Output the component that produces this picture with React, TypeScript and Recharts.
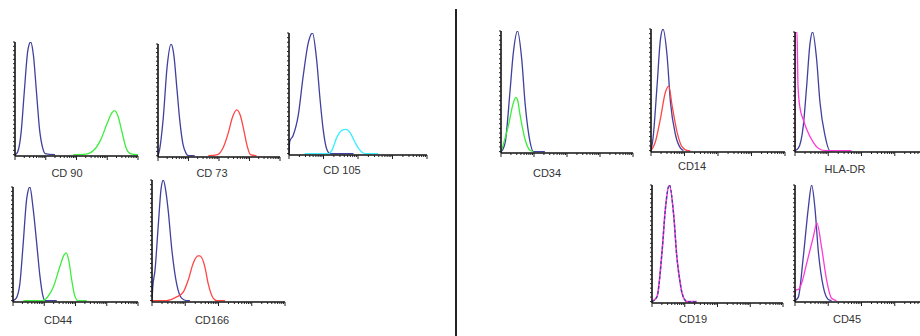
import React from "react";
import { LineChart, Line, XAxis, YAxis } from "recharts";

// histogram curves, x in log decades (0..4), y = relative count (isotype peak = 1)
const cd90Iso = [[0,0],[0.08,0.02],[0.2,0.2],[0.3,0.55],[0.42,0.93],[0.51,1],[0.6,0.88],[0.7,0.55],[0.8,0.22],[0.9,0.06],[0.98,0.01],[1.3,0]];
const cd90Stain = [[1.9,0],[2.3,0.005],[2.6,0.05],[2.8,0.14],[3.0,0.28],[3.15,0.37],[3.24,0.39],[3.35,0.34],[3.48,0.2],[3.6,0.07],[3.75,0.01],[4.0,0]];
const cd73Iso = [[0,0],[0.05,0.05],[0.17,0.33],[0.3,0.8],[0.43,1],[0.52,0.9],[0.62,0.6],[0.72,0.3],[0.82,0.1],[0.92,0.02],[1.0,0],[1.2,0]];
const cd73Stain = [[1.65,0],[1.95,0.01],[2.15,0.08],[2.3,0.2],[2.45,0.35],[2.58,0.41],[2.7,0.36],[2.82,0.22],[2.93,0.08],[3.03,0.01],[3.23,0]];
const cd105Iso = [[0,0],[0.02,0.1],[0.12,0.15],[0.27,0.32],[0.41,0.64],[0.56,0.92],[0.68,1],[0.8,0.78],[0.9,0.45],[0.99,0.2],[1.09,0.04],[1.19,0],[1.87,0]];
const cd105Stain = [[0.46,0],[1.15,0],[1.25,0.03],[1.38,0.13],[1.52,0.19],[1.65,0.2],[1.78,0.17],[1.9,0.1],[2.05,0.03],[2.2,0],[2.58,0]];
const cd44Iso = [[0,0],[0.1,0.02],[0.22,0.15],[0.32,0.48],[0.44,0.9],[0.54,1],[0.64,0.82],[0.76,0.5],[0.86,0.22],[0.95,0.05],[1.03,0],[1.4,0]];
const cd44Stain = [[0.33,0],[0.95,0],[1.1,0.03],[1.29,0.12],[1.5,0.3],[1.63,0.4],[1.7,0.42],[1.78,0.36],[1.88,0.18],[1.98,0.04],[2.08,0],[2.36,0]];
const cd166Iso = [[0,0],[0.02,0.1],[0.09,0.25],[0.19,0.63],[0.27,0.92],[0.34,1],[0.42,0.9],[0.49,0.74],[0.59,0.44],[0.74,0.14],[0.89,0.02],[1.04,0],[1.14,0]];
const cd166Stain = [[0,0],[0.44,0],[0.74,0.03],[0.94,0.07],[1.09,0.17],[1.24,0.31],[1.38,0.37],[1.44,0.37],[1.59,0.28],[1.69,0.14],[1.84,0.02],[1.95,0],[2.2,0]];
const cd34Iso = [[0,0],[0.06,0.02],[0.13,0.08],[0.27,0.49],[0.37,0.81],[0.5,1],[0.63,0.76],[0.73,0.4],[0.81,0.2],[0.88,0.08],[0.98,0],[1.33,0]];
const cd34Stain = [[0,0],[0.07,0.06],[0.22,0.21],[0.37,0.4],[0.45,0.45],[0.5,0.43],[0.58,0.3],[0.73,0.1],[0.88,0.01],[0.98,0]];
const cd14Iso = [[0,0],[0.06,0.1],[0.18,0.53],[0.28,0.91],[0.36,1],[0.48,0.78],[0.58,0.4],[0.73,0.13],[0.88,0.02],[0.97,0]];
const cd14Stain = [[0,0],[0.13,0.07],[0.28,0.26],[0.43,0.48],[0.53,0.53],[0.63,0.37],[0.78,0.15],[0.93,0.03],[1.1,0],[1.17,0]];
const hlaIso = [[0,0],[0.1,0.02],[0.25,0.21],[0.35,0.54],[0.45,0.9],[0.53,1],[0.65,0.77],[0.75,0.41],[0.9,0.13],[1.05,0],[1.15,0]];
const hlaStain = [[0,0],[0.005,1],[0.06,1],[0.09,0.55],[0.15,0.36],[0.25,0.26],[0.35,0.18],[0.55,0.07],[0.7,0.02],[0.9,0],[1.7,0]];
const cd19Iso = [[0,0],[0.15,0.04],[0.31,0.44],[0.41,0.8],[0.53,1],[0.66,0.75],[0.76,0.38],[0.85,0.18],[0.92,0.07],[1.07,0],[1.37,0]];
const cd19Stain = [[0,0],[0.15,0.04],[0.31,0.44],[0.41,0.8],[0.53,1],[0.66,0.75],[0.76,0.38],[0.85,0.18],[0.92,0.07],[1.07,0],[1.37,0]];
const cd45Iso = [[0,0],[0.1,0.03],[0.25,0.38],[0.4,0.8],[0.5,1],[0.6,0.8],[0.7,0.43],[0.85,0.12],[1.0,0.01],[1.1,0]];
const cd45Stain = [[0,0],[0.02,0.09],[0.12,0.1],[0.2,0.15],[0.35,0.32],[0.55,0.55],[0.66,0.67],[0.8,0.46],[0.95,0.18],[1.1,0.02],[1.25,0]];

const labels = ["CD 90", "CD 73", "CD 105", "CD44", "CD166", "CD34", "CD14", "HLA-DR", "CD19", "CD45"];

const BLUE = "#40409e";
const GREEN = "#3cee3c";
const RED = "#ff4646";
const CYAN = "#3ceeff";
const MAGENTA = "#ff3ad8";

// log decade ticks
const X_TICKS: number[] = [];
for (let d = 0; d < 4; d++) for (let k = 1; k < 10; k++) X_TICKS.push(d + Math.log10(k));
X_TICKS.push(4);
const Y_TICKS: number[] = [];
for (let i = 0; i <= 26; i++) Y_TICKS.push(i / 26);

const ML = 6, MT = 3, MR = 4, MB = 8;

const toPts = (arr: number[][]) => arr.map(([x, y]) => ({ x, y }));

interface Curve { data: number[][]; color: string; dash?: string; width?: number }
interface PanelDef { label: string; box: number[]; lab: number[]; curves: Curve[] }

const panels: PanelDef[] = [
  { label: labels[0], box: [15, 42, 138, 156], lab: [67, 173], curves: [{ data: cd90Iso, color: BLUE }, { data: cd90Stain, color: GREEN }] },
  { label: labels[1], box: [158, 44, 280, 157], lab: [212, 173], curves: [{ data: cd73Iso, color: BLUE }, { data: cd73Stain, color: RED }] },
  { label: labels[2], box: [289, 33, 427, 155], lab: [342, 170], curves: [{ data: cd105Iso, color: BLUE }, { data: cd105Stain, color: CYAN }] },
  { label: labels[3], box: [13, 187, 138, 302], lab: [58, 320], curves: [{ data: cd44Iso, color: BLUE }, { data: cd44Stain, color: GREEN }] },
  { label: labels[4], box: [152, 180, 285, 302], lab: [212, 320], curves: [{ data: cd166Iso, color: BLUE }, { data: cd166Stain, color: RED }] },
  { label: labels[5], box: [501, 31, 633, 153], lab: [547, 173], curves: [{ data: cd34Iso, color: BLUE }, { data: cd34Stain, color: GREEN }] },
  { label: labels[6], box: [651, 29, 785, 152], lab: [692, 166], curves: [{ data: cd14Iso, color: BLUE }, { data: cd14Stain, color: RED }] },
  { label: labels[7], box: [795, 32, 928, 152], lab: [845, 169], curves: [{ data: hlaIso, color: BLUE }, { data: hlaStain, color: MAGENTA }] },
  { label: labels[8], box: [652, 185, 783, 303], lab: [693, 319], curves: [{ data: cd19Stain, color: MAGENTA, width: 1.6 }, { data: cd19Iso, color: BLUE, dash: "3 2" }] },
  { label: labels[9], box: [795, 185, 928, 302], lab: [847, 319], curves: [{ data: cd45Iso, color: BLUE }, { data: cd45Stain, color: MAGENTA }] },
];

const XTick = (props: any) => {
  const { x, y, payload } = props;
  const major = Math.abs(payload.value - Math.round(payload.value)) < 1e-6;
  return <line x1={x} x2={x} y1={y} y2={y + (major ? 4 : 2)} stroke="#222" strokeWidth={1} />;
};

const YTick = (props: any) => {
  const { x, y } = props;
  return <line x1={x - 2} x2={x} y1={y} y2={y} stroke="#222" strokeWidth={1} />;
};

const Panel = ({ p }: { p: PanelDef }) => {
  const [L, T, R, B] = p.box;
  const w = R - L + ML + MR;
  const h = B - T + MT + MB;
  return (
    <>
      <div style={{ position: "absolute", left: L - ML, top: T - MT }}>
        <LineChart width={w} height={h} margin={{ top: MT, right: MR, bottom: 0, left: 0 }}>
          <XAxis type="number" dataKey="x" domain={[0, 4]} ticks={X_TICKS} interval={0} height={MB}
            tickLine={false} tickSize={0} tickMargin={0} tick={<XTick />} axisLine={{ stroke: "#111", strokeWidth: 1.3 }} allowDataOverflow />
          <YAxis type="number" domain={[-0.012, 1]} ticks={Y_TICKS} interval={0} width={ML}
            tickLine={false} tickSize={0} tickMargin={0} tick={<YTick />} axisLine={{ stroke: "#111", strokeWidth: 1.6 }} allowDataOverflow />
          {p.curves.map((c, i) => (
            <Line key={i} data={toPts(c.data)} dataKey="y" type="monotone" stroke={c.color}
              strokeWidth={c.width ?? 1.3} strokeDasharray={c.dash} dot={false} activeDot={false} isAnimationActive={false} />
          ))}
        </LineChart>
      </div>
      <div style={{ position: "absolute", left: p.lab[0], top: p.lab[1], transform: "translate(-50%, -50%)",
        fontFamily: "'Liberation Sans', Arial, sans-serif", fontSize: 11, color: "#333", whiteSpace: "nowrap" }}>
        {p.label}
      </div>
    </>
  );
};

export default function App() {
  return (
    <div style={{ position: "absolute", left: 0, top: 0, width: 920, height: 336, background: "#fff", overflow: "hidden" }}>
      {panels.map((p) => <Panel key={p.label} p={p} />)}
      <div style={{ position: "absolute", left: 455, top: 9, width: 2, height: 327, background: "#222" }} />
    </div>
  );
}
